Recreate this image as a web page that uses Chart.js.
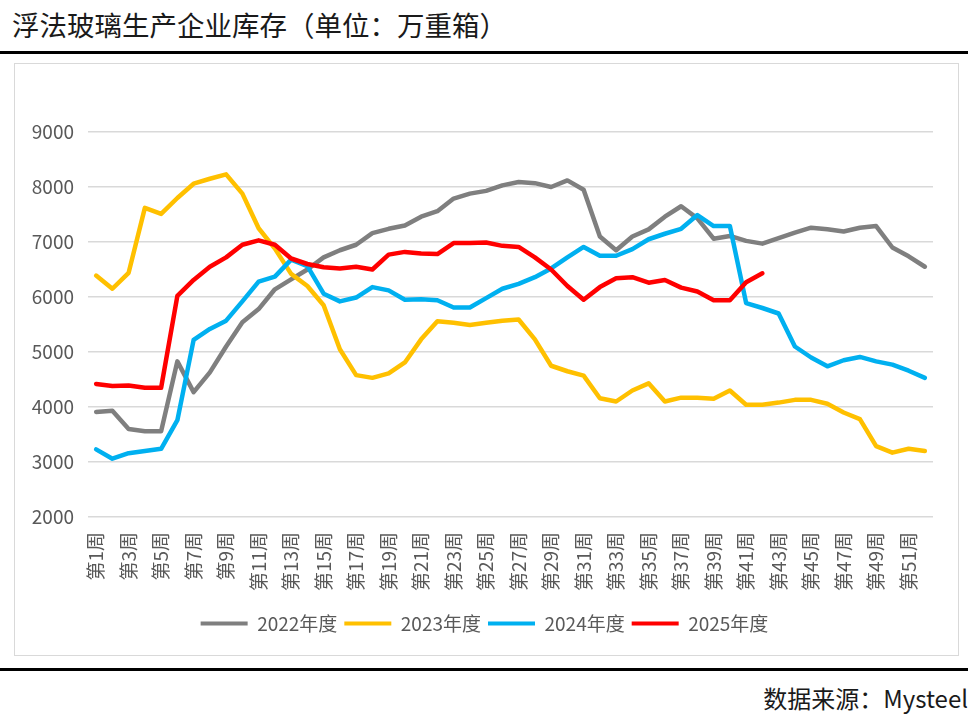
<!DOCTYPE html>
<html>
<head>
<meta charset="utf-8">
<script src="https://cdn.jsdelivr.net/npm/chart.js@4/dist/chart.umd.min.js"></script>
<style>
html,body{margin:0;padding:0;background:#fff;}
#wrap{position:relative;width:970px;height:719px;overflow:hidden;background:#fff;}
#title{position:absolute;left:12px;top:6px;font-family:"Noto Sans CJK SC",sans-serif;font-size:27.5px;line-height:36px;color:#1a1a1a;white-space:nowrap;}
.rule{position:absolute;left:0;width:968px;height:3px;background:#000;}
#box{position:absolute;left:14px;top:63px;width:943px;height:591px;border:1px solid #d9d9d9;}
#src{position:absolute;right:2px;top:683px;font-family:"Noto Sans CJK SC",sans-serif;font-size:24px;line-height:30px;color:#1a1a1a;white-space:nowrap;}
#c{position:absolute;left:0;top:0;}
</style>
</head>
<body>
<div id="wrap">
  <div id="title">浮法玻璃生产企业库存（单位：万重箱）</div>
  <div class="rule" style="top:51px"></div>
  <div id="box"></div>
  <div class="rule" style="top:668px"></div>
  <div id="src">数据来源：Mysteel</div>
  <canvas id="c" width="970" height="719" style="width:970px;height:719px"></canvas>
</div>
<script>
const weeks = ['第1周','第2周','第3周','第4周','第5周','第6周','第7周','第8周','第9周','第10周',
  '第11周','第12周','第13周','第14周','第15周','第16周','第17周','第18周','第19周','第20周',
  '第21周','第22周','第23周','第24周','第25周','第26周','第27周','第28周','第29周','第30周',
  '第31周','第32周','第33周','第34周','第35周','第36周','第37周','第38周','第39周','第40周',
  '第41周','第42周','第43周','第44周','第45周','第46周','第47周','第48周','第49周','第50周',
  '第51周','第52周'];

const seriesNames = ['2022年度','2023年度','2024年度','2025年度'];

const y2022 = [3910,3930,3600,3560,3560,4830,4270,4630,5100,5540,
  5780,6140,6320,6500,6720,6850,6950,7160,7240,7300,
  7460,7560,7790,7880,7930,8030,8090,8070,8000,8120,
  7950,7100,6850,7100,7230,7460,7650,7430,7060,7110,
  7020,6970,7070,7170,7260,7230,7190,7260,7290,6900,
  6740,6550];

const y2023 = [6390,6150,6440,7620,7510,7800,8060,8150,8230,7880,
  7250,6880,6420,6200,5850,5050,4580,4530,4610,4810,
  5230,5560,5530,5490,5530,5570,5590,5230,4750,4650,
  4570,4160,4100,4300,4430,4100,4170,4170,4150,4300,
  4040,4040,4080,4130,4130,4060,3900,3780,3290,3170,
  3240,3200];

const y2024 = [3230,3060,3160,3200,3240,3760,5220,5420,5570,5920,
  6280,6370,6680,6560,6060,5920,5990,6180,6120,5950,
  5960,5940,5810,5810,5980,6150,6240,6360,6520,6720,
  6910,6750,6750,6870,7050,7150,7240,7490,7290,7290,
  5890,5800,5700,5100,4900,4740,4850,4910,4830,4770,
  4660,4530];

const y2025 = [4420,4380,4390,4350,4350,6020,6310,6550,6720,6950,
  7030,6950,6700,6600,6540,6520,6550,6500,6770,6820,
  6790,6780,6980,6980,6990,6930,6910,6720,6500,6200,
  5950,6180,6340,6360,6260,6310,6170,6100,5940,5940,
  6270,6430];

const yTicks = [2000,3000,4000,5000,6000,7000,8000,9000];

const colors = ['#7f7f7f','#ffc000','#00b0f0','#ff0000'];
const values = [y2022, y2023, y2024, y2025];

const FONT = '"Noto Sans CJK SC", "Noto Sans", sans-serif';
const TXT = '#595959';

const datasets = values.map((v, i) => ({
  label: seriesNames[i],
  data: v,
  borderColor: colors[i],
  backgroundColor: colors[i],
  borderWidth: 4.5,
  pointRadius: 0,
  pointHoverRadius: 0,
  tension: 0,
  fill: false,
  borderJoinStyle: 'round',
  borderCapStyle: 'round',
  order: 4 - i
}));

const centerLegend = {
  id: 'centerLegend',
  afterLayout(chart) {
    const lg = chart.legend;
    if (lg) { lg.left = 9; lg.right = 960; lg.width = 951; }
  }
};

new Chart(document.getElementById('c'), {
  type: 'line',
  data: { labels: weeks, datasets },
  plugins: [centerLegend],
  options: {
    responsive: false,
    animation: false,
    events: [],
    layout: { padding: { left: 0, right: 37, top: 132, bottom: 76 } },
    scales: {
      x: {
        type: 'category',
        offset: true,
        grid: { display: false, drawTicks: false },
        border: { display: false },
        ticks: {
          autoSkip: false,
          minRotation: 90,
          maxRotation: 90,
          padding: 15,
          color: TXT,
          font: { family: FONT, size: 19 },
          callback: function(val, idx) { return idx % 2 === 0 ? this.getLabelForValue(val) : ''; }
        },
        afterFit: (s) => { s.height = 90; }
      },
      y: {
        min: 2000,
        max: 9000,
        afterBuildTicks: (s) => { s.ticks = yTicks.map(v => ({ value: v })); },
        grid: { color: '#d9d9d9', lineWidth: 1.5, drawTicks: false },
        border: { display: false },
        ticks: {
          padding: 14,
          color: TXT,
          font: { family: FONT, size: 19 },
          callback: (v) => String(v)
        },
        afterFit: (s) => { s.width = 88; }
      }
    },
    plugins: {
      tooltip: { enabled: false },
      legend: {
        position: 'bottom',
        labels: {
          boxWidth: 47,
          boxHeight: 4,
          padding: 7,
          color: TXT,
          font: { family: FONT, size: 19 },
          sort: (a, b) => a.datasetIndex - b.datasetIndex,
          generateLabels: (chart) => Chart.defaults.plugins.legend.labels.generateLabels(chart)
            .map(l => Object.assign({}, l, { lineWidth: 0, fillStyle: colors[l.datasetIndex] }))
        }
      }
    }
  }
});
</script>
</body>
</html>
